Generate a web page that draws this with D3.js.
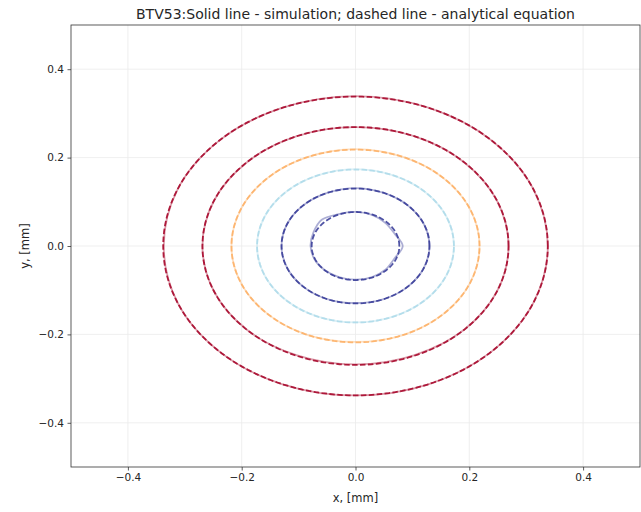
<!DOCTYPE html>
<html>
<head>
<meta charset="utf-8">
<script src="https://cdn.jsdelivr.net/npm/d3@7"></script>
<style>
  body { margin: 0; background: #fff; }
  text { font-family: "DejaVu Sans", sans-serif; fill: #262626; }
</style>
</head>
<body>
<script>
// analytical contour radii (mm), outer to inner
const levels = ["L1", "L2", "L3", "L4", "L5", "L6"];
const analyticRadius = [0.338, 0.269, 0.218, 0.173, 0.130, 0.077];
const levelColors = ["#a50026", "#a50026", "#fdae61", "#abd9e9", "#313695", "#313695"];

// simulated contour radii read at 16 angles (0, 22.5, ... 337.5 deg)
const simAngles = [0, 22.5, 45, 67.5, 90, 112.5, 135, 157.5, 180, 202.5, 225, 247.5, 270, 292.5, 315, 337.5];
const simRadius = [
  [0.338, 0.338, 0.338, 0.338, 0.339, 0.338, 0.338, 0.338, 0.337, 0.338, 0.338, 0.338, 0.338, 0.338, 0.338, 0.338],
  [0.269, 0.269, 0.269, 0.269, 0.269, 0.269, 0.269, 0.269, 0.269, 0.269, 0.269, 0.268, 0.268, 0.268, 0.269, 0.269],
  [0.218, 0.218, 0.218, 0.218, 0.219, 0.218, 0.218, 0.218, 0.218, 0.218, 0.218, 0.218, 0.217, 0.218, 0.218, 0.218],
  [0.173, 0.173, 0.173, 0.173, 0.174, 0.173, 0.173, 0.173, 0.173, 0.173, 0.173, 0.173, 0.173, 0.173, 0.173, 0.173],
  [0.130, 0.130, 0.130, 0.130, 0.131, 0.130, 0.130, 0.130, 0.130, 0.130, 0.130, 0.130, 0.129, 0.130, 0.130, 0.130],
  [0.083, 0.074, 0.074, 0.076, 0.077, 0.078, 0.084, 0.080, 0.079, 0.078, 0.077, 0.076, 0.076, 0.076, 0.075, 0.074]
];

const xTicks = [-0.4, -0.2, 0.0, 0.2, 0.4];
const yTicks = [-0.4, -0.2, 0.0, 0.2, 0.4];

const width = 641,
    height = 512,
    margin = { top: 25, right: 1, bottom: 45, left: 71 },
    fmt = d3.format(".1f");

const svg = d3.select("body").append("svg")
    .attr("width", width)
    .attr("height", height);

const x = d3.scaleLinear().domain([-0.5, 0.5]).range([margin.left, width - margin.right]);
const y = d3.scaleLinear().domain([-0.5, 0.5]).range([height - margin.bottom, margin.top]);

// grid
svg.append("g").selectAll("line").data(xTicks).join("line")
    .attr("x1", d => x(d)).attr("x2", d => x(d))
    .attr("y1", y(-0.5)).attr("y2", y(0.5))
    .attr("stroke", "#ebebeb").attr("stroke-width", 0.8);
svg.append("g").selectAll("line").data(yTicks).join("line")
    .attr("y1", d => y(d)).attr("y2", d => y(d))
    .attr("x1", x(-0.5)).attr("x2", x(0.5))
    .attr("stroke", "#ebebeb").attr("stroke-width", 0.8);

const plotArea = svg.append("g");

const circlePts = r => d3.range(0, 361, 2).map(a => [r * Math.cos(a * Math.PI / 180), r * Math.sin(a * Math.PI / 180)]);

const line = d3.line().x(d => x(d[0])).y(d => y(d[1]));
const simLine = d3.line().x(d => x(d[0])).y(d => y(d[1])).curve(d3.curveCatmullRomClosed);

levels.forEach((lv, i) => {
    const pts = simAngles.map((a, j) => [simRadius[i][j] * Math.cos(a * Math.PI / 180), simRadius[i][j] * Math.sin(a * Math.PI / 180)]);
    plotArea.append("path")
        .attr("d", simLine(pts))
        .attr("fill", "none")
        .attr("stroke", levelColors[i])
        .attr("stroke-opacity", 0.4)
        .attr("stroke-width", 1.8);
    plotArea.append("path")
        .attr("d", line(circlePts(analyticRadius[i])))
        .attr("fill", "none")
        .attr("stroke", levelColors[i])
        .attr("stroke-opacity", 0.85)
        .attr("stroke-width", 1.8)
        .attr("stroke-dasharray", "5.5,2.4");
});

// axes
const xAxis = svg.append("g")
    .attr("transform", "translate(0," + y(-0.5) + ")")
    .call(d3.axisBottom(x).tickValues(xTicks).tickFormat(fmt).tickSize(3.5).tickPadding(3.5));
const yAxis = svg.append("g")
    .attr("transform", "translate(" + x(-0.5) + ",0)")
    .call(d3.axisLeft(y).tickValues(yTicks).tickFormat(fmt).tickSize(3.5).tickPadding(3.5));
[xAxis, yAxis].forEach(g => {
    g.select(".domain").remove();
    g.selectAll(".tick line").attr("stroke", "#333").attr("stroke-width", 0.8);
    g.selectAll(".tick text").attr("font-size", 10.5).attr("font-family", "DejaVu Sans").attr("fill", "#262626");
});

// frame
svg.append("rect")
    .attr("x", x(-0.5)).attr("y", y(0.5))
    .attr("width", x(0.5) - x(-0.5)).attr("height", y(-0.5) - y(0.5))
    .attr("fill", "none").attr("stroke", "#333").attr("stroke-width", 0.8);

svg.append("text")
    .attr("x", (x(-0.5) + x(0.5)) / 2).attr("y", 19)
    .attr("text-anchor", "middle").attr("font-size", 14)
    .text("BTV53:Solid line - simulation; dashed line - analytical equation");

svg.append("text")
    .attr("x", (x(-0.5) + x(0.5)) / 2).attr("y", 502)
    .attr("text-anchor", "middle").attr("font-size", 11.5)
    .text("x, [mm]");

svg.append("text")
    .attr("transform", "translate(29," + ((y(-0.5) + y(0.5)) / 2) + ") rotate(-90)")
    .attr("text-anchor", "middle").attr("font-size", 11.5)
    .text("y, [mm]");
</script>
</body>
</html>
